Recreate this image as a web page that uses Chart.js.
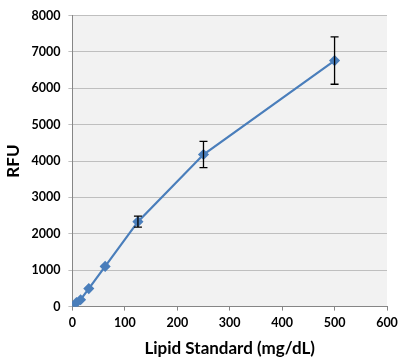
<!DOCTYPE html>
<html>
<head>
<meta charset="utf-8">
<script src="https://cdn.jsdelivr.net/npm/chart.js@4.4.0/dist/chart.umd.min.js"></script>
<style>
  html, body { margin: 0; padding: 0; background: #ffffff; }
  #wrap { width: 400px; height: 359px; }
</style>
</head>
<body>
<div id="wrap"><canvas id="lipidChart"></canvas></div>
<script>
const concentrations = [0, 7.8, 15.6, 31.25, 62.5, 125, 250, 500];
const rfuValues = [0, 110, 190, 495, 1105, 2335, 4180, 6760];
const rfuErrors = [0, 0, 0, 0, 0, 150, 360, 650];
const xTicks = [0, 100, 200, 300, 400, 500, 600];

const points = concentrations.map((c, i) => ({ x: c, y: rfuValues[i] }));

// grey plot area behind the series
const plotBackground = {
  id: 'plotBackground',
  beforeDraw(chart) {
    const { ctx, chartArea } = chart;
    ctx.save();
    ctx.fillStyle = '#f2f2f2';
    ctx.fillRect(chartArea.left, chartArea.top, chartArea.width, chartArea.height);
    ctx.restore();
  }
};

// vertical error bars with caps
const errorBars = {
  id: 'errorBars',
  afterDatasetsDraw(chart) {
    const { ctx, scales } = chart;
    ctx.save();
    ctx.strokeStyle = '#000000';
    ctx.lineWidth = 1.3;
    concentrations.forEach((c, i) => {
      const err = rfuErrors[i];
      if (!err) return;
      const px = scales.x.getPixelForValue(c);
      const top = scales.y.getPixelForValue(rfuValues[i] + err);
      const bottom = scales.y.getPixelForValue(rfuValues[i] - err);
      ctx.beginPath();
      ctx.moveTo(px, top);
      ctx.lineTo(px, bottom);
      ctx.moveTo(px - 4, top);
      ctx.lineTo(px + 4, top);
      ctx.moveTo(px - 4, bottom);
      ctx.lineTo(px + 4, bottom);
      ctx.stroke();
    });
    ctx.restore();
  }
};

const tickFont = { family: 'Lato, "Open Sans", sans-serif', size: 12.5, weight: 'bold' };
const titleFont = { family: 'Lato, "Open Sans", sans-serif', size: 17, weight: 'bold' };

new Chart(document.getElementById('lipidChart'), {
  type: 'scatter',
  data: {
    datasets: [{
      data: points,
      showLine: true,
      borderColor: '#4a7ebb',
      backgroundColor: '#4a7ebb',
      borderWidth: 2.2,
      pointStyle: 'rectRot',
      pointRadius: 4,
      pointHoverRadius: 4,
      tension: 0
    }]
  },
  options: {
    responsive: true,
    maintainAspectRatio: false,
    animation: false,
    layout: { padding: { top: 12, right: 0, bottom: 0, left: 3 } },
    plugins: {
      legend: { display: false },
      tooltip: { enabled: false }
    },
    scales: {
      x: {
        type: 'linear',
        min: 0,
        max: 600,
        afterBuildTicks(axis) { axis.ticks = xTicks.map(v => ({ value: v })); },
        afterFit(axis) { axis.paddingRight = 13; },
        grid: { drawOnChartArea: false, color: '#868686', tickLength: 4 },
        border: { color: '#868686' },
        ticks: { color: '#000000', font: tickFont, padding: 5 },
        title: {
          display: true,
          text: 'Lipid Standard (mg/dL)',
          color: '#000000',
          font: titleFont,
          padding: { top: 3, bottom: 0 }
        }
      },
      y: {
        min: 0,
        max: 8000,
        ticks: {
          stepSize: 1000,
          color: '#000000',
          font: tickFont,
          padding: 8,
          callback: v => String(v)
        },
        grid: { color: '#bfbfbf', tickLength: 4 },
        border: { color: '#868686' },
        title: {
          display: true,
          text: 'RFU',
          color: '#000000',
          font: titleFont,
          padding: { top: 0, bottom: 0 }
        }
      }
    }
  },
  plugins: [plotBackground, errorBars]
});
</script>
</body>
</html>
